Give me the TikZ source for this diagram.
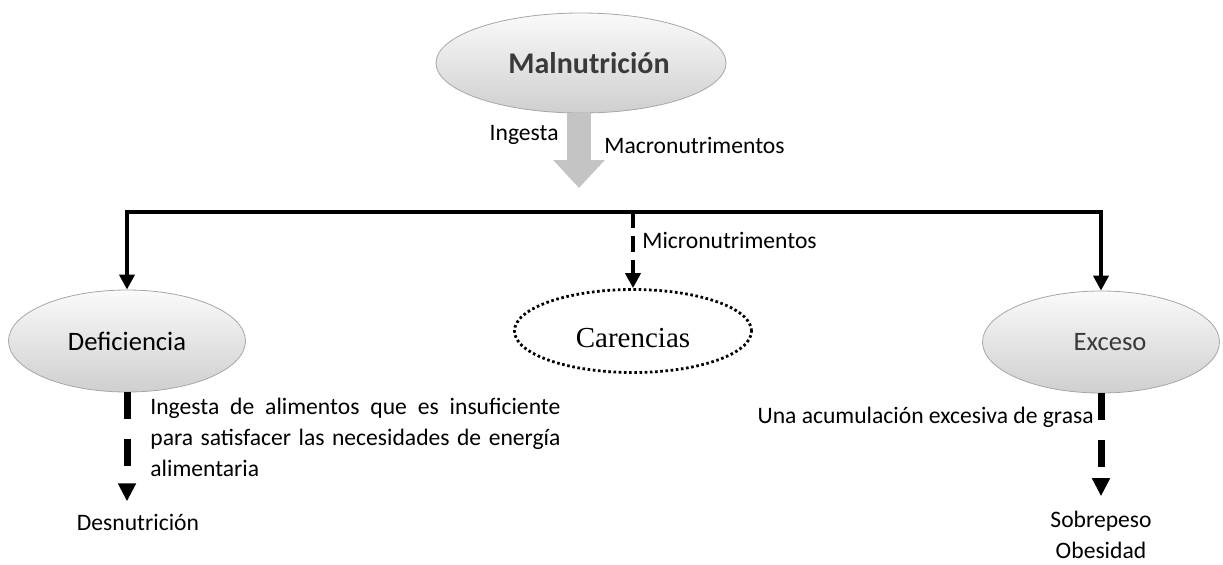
\documentclass[tikz,border=0pt]{standalone}
\usepackage{fontspec}
\setmainfont{Carlito}
\newfontfamily\serifface{Liberation Serif}
\usetikzlibrary{shapes.geometric}
\usetikzlibrary{arrows.meta}

\definecolor{rimgray}{HTML}{A6A6A6}
\definecolor{topgray}{HTML}{FAFAFA}
\definecolor{lowgray}{HTML}{CFCFCF}
\definecolor{inkgray}{HTML}{3A3A3A}
\definecolor{shaftgray}{HTML}{C4C4C4}

\tikzset{
  bubble/.style={ellipse, draw=rimgray, line width=0.4pt, top color=topgray,
    bottom color=lowgray, minimum width=118.5pt, minimum height=51pt,
    font=\fontsize{13.3}{15.5}\selectfont},
  gapbubble/.style={ellipse, draw, line width=1.4pt, dash pattern=on 1.3pt off 1.3pt,
    minimum width=118.5pt, minimum height=41.5pt, text height=16.5pt, text depth=0pt,
    font=\serifface\fontsize{14.5}{17}\selectfont},
  plain/.style={inner sep=0pt, font=\fontsize{11.8}{15.5}\selectfont},
  bus/.style={line width=2pt, -{Triangle[width=7.5pt,length=7.5pt]}},
  thindash/.style={line width=2pt, dash pattern=on 8pt off 4pt,
    -{Triangle[width=7.5pt,length=7.5pt]}},
  thickdash/.style={line width=3.5pt, dash pattern=on 13.5pt off 10pt,
    -{Triangle[width=8.5pt,length=9pt]}},
  bigarrow/.style={line width=12pt, shaftgray, -{Triangle[width=25pt,length=14pt]}}
}

\begin{document}
\begin{tikzpicture}[x=0.5pt,y=-0.5pt]
\useasboundingbox (0,0) rectangle (1223,564);
% Define nodes
% Top node
\node[bubble, minimum width=145pt, minimum height=50pt, text=inkgray,
  font=\bfseries\fontsize{15}{18}\selectfont] (maln) at (581,63) {\hspace*{8pt}Malnutrición};
\coordinate (drop) at (579,188);
\node[plain, anchor=base east] (ingesta) at (559,140) {Ingesta};
\node[plain, anchor=base west] (macro) at (604,153) {Macronutrimentos};

% Branch line
\coordinate (hub) at (633,212);
\node[plain, anchor=base west] (micro) at (642,248) {Micronutrimentos};

% Middle nodes
\node[bubble] (def) at (127,341) {Deficiencia};
\node[gapbubble] (car) at (633,331) {Carencias};
\node[bubble, text=inkgray] (exc) at (1101,342) {\hspace*{9pt}Exceso};

% Bottom notes
\node[plain, anchor=north west, text width=205pt, align=justify] (defnote) at (150,398)
  {\hyphenpenalty=10000 Ingesta de alimentos que es insuficiente para satisfacer las necesidades de energía alimentaria};
\node[plain, anchor=base] (desn) at (138,530) {Desnutrición};
\node[plain, anchor=base east] (excnote) at (1094,423) {Una acumulación excesiva de grasa};
\node[plain, anchor=base, align=center] (obes) at (1101,558) {Sobrepeso\\Obesidad};

% Edges
\draw[bigarrow] (maln.south -| drop) -- (drop);
\draw[bus] (hub) -| (def);
\draw[bus] (hub) -| (exc);
\draw[thindash] (hub) -- (car);
\draw[thickdash, shorten >=6pt] (def) -- (def |- desn.north);
\draw[thickdash, shorten >=7pt] (exc) -- (exc |- obes.north);
\end{tikzpicture}
\end{document}
